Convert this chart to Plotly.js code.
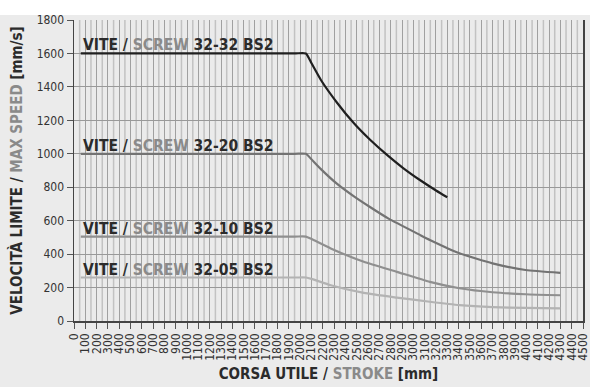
<!DOCTYPE html>
<html>
<head>
<meta charset="utf-8">
<script src="https://cdn.plot.ly/plotly-3.0.1.min.js"></script>
<style>html,body{margin:0;padding:0;background:#fff}#chart{width:590px;height:387px}</style>
</head>
<body>
<div id="chart"></div>
<script>
// ---- data ----
const s3232_x = [60, 1950, 2050, 2100, 2183, 2329, 2475, 2620, 2767, 2913, 3058, 3204, 3300];
const s3232_y = [1600, 1600, 1600, 1541, 1441, 1302, 1182, 1082, 993, 913, 843, 779, 740];

const s3220_x = [60, 1950, 2050, 2095, 2183, 2329, 2475, 2620, 2781, 3058, 3146, 3408, 3700, 3992, 4300];
const s3220_y = [1000, 1000, 1000, 970, 908, 818, 745, 680, 612, 515, 485, 405, 345, 305, 288];

const s3210_x = [60, 1950, 2050, 2100, 2270, 2562, 2854, 3146, 3408, 3700, 3992, 4300];
const s3210_y = [505, 505, 505, 490, 434, 354, 294, 234, 196, 172, 160, 154];

const s3205_x = [60, 1950, 2050, 2100, 2270, 2562, 2854, 3146, 3408, 3700, 3992, 4300];
const s3205_y = [260, 260, 260, 252, 214, 168, 140, 115, 95, 83, 78, 76];

const seriesNames = ["32-32 BS2", "32-20 BS2", "32-10 BS2", "32-05 BS2"];
const labelLevels = [1600, 1000, 500, 260];
const xTickVals = []; for (let v = 0; v <= 4500; v += 100) xTickVals.push(v);
const yTickVals = [0, 200, 400, 600, 800, 1000, 1200, 1400, 1600, 1800];

// ---- styling ----
const FONT = '"DejaVu Sans Condensed", "Liberation Sans Narrow", "Liberation Sans", sans-serif';
const lineColors = ['#1f1f1f', '#737373', '#8f8f8f', '#b3b3b3'];
const xs = [s3232_x, s3220_x, s3210_x, s3205_x];
const ys = [s3232_y, s3220_y, s3210_y, s3205_y];

const traces = xs.map((x, i) => ({
  x: x, y: ys[i], type: 'scatter', mode: 'lines',
  line: {color: lineColors[i], width: 2.2, shape: 'spline', smoothing: 0.5},
  hoverinfo: 'skip', showlegend: false, cliponaxis: false
}));

const shapes = [
  {type: 'rect', xref: 'paper', yref: 'paper', x0: -0.2, x1: 1.1, y0: -0.3, y1: 1.0 + 5/301, fillcolor: '#ebebeb', line: {width: 0}, layer: 'below'}
];
// minor vertical grid at the 50s (lighter)
for (let v = 50; v < 4500; v += 100) {
  shapes.push({type: 'line', xref: 'x', yref: 'paper', x0: v, x1: v, y0: 0, y1: 1,
    line: {color: '#c2c2c2', width: 1.5}, layer: 'below'});
}

const annotations = seriesNames.map((n, i) => ({
  xref: 'x', yref: 'y', x: 60, y: labelLevels[i], xanchor: 'left', yanchor: 'bottom',
  yshift: -3, xshift: 0, showarrow: false,
  text: '<b>VITE / <span style="color:#8a8a8a">SCREW</span> ' + n + '</b>',
  font: {family: FONT, size: 15.5, color: '#2b2b2b'}
}));

const layout = {
  width: 590, height: 387,
  margin: {l: 74, r: 7, t: 20, b: 66},
  paper_bgcolor: '#ffffff',
  plot_bgcolor: '#efefef',
  font: {family: FONT, color: '#333'},
  xaxis: {
    range: [0, 4500], tickmode: 'array', tickvals: xTickVals,
    ticktext: xTickVals.map(String), tickangle: -90, ticklabeloverflow: 'allow',
    ticks: 'outside', ticklen: 6, tickcolor: '#555', tickwidth: 1,
    showgrid: true, gridcolor: '#a0a0a0', gridwidth: 1,
    showline: true, linecolor: '#444', linewidth: 1.5,
    zeroline: false,
    tickfont: {family: FONT, size: 12, color: '#333'},
    title: {text: '<b>CORSA UTILE / <span style="color:#8a8a8a">STROKE</span> [mm]</b>',
            font: {family: FONT, size: 15, color: '#2b2b2b'}, standoff: 8}
  },
  yaxis: {
    range: [0, 1800], tickmode: 'array', tickvals: yTickVals,
    ticks: 'outside', ticklen: 6, tickcolor: '#555', tickwidth: 1,
    showgrid: true, gridcolor: '#999999', gridwidth: 1,
    showline: true, linecolor: '#444', linewidth: 1.5, mirror: true,
    zeroline: false,
    tickfont: {family: FONT, size: 12, color: '#333'},
    title: {text: '<b>VELOCITÀ LIMITE / <span style="color:#8a8a8a">MAX SPEED</span> [mm/s]</b>',
            font: {family: FONT, size: 15, color: '#2b2b2b'}, standoff: 10}
  },
  shapes: shapes,
  annotations: annotations
};

Plotly.newPlot('chart', traces, layout, {staticPlot: true, displayModeBar: false});
</script>
</body>
</html>
